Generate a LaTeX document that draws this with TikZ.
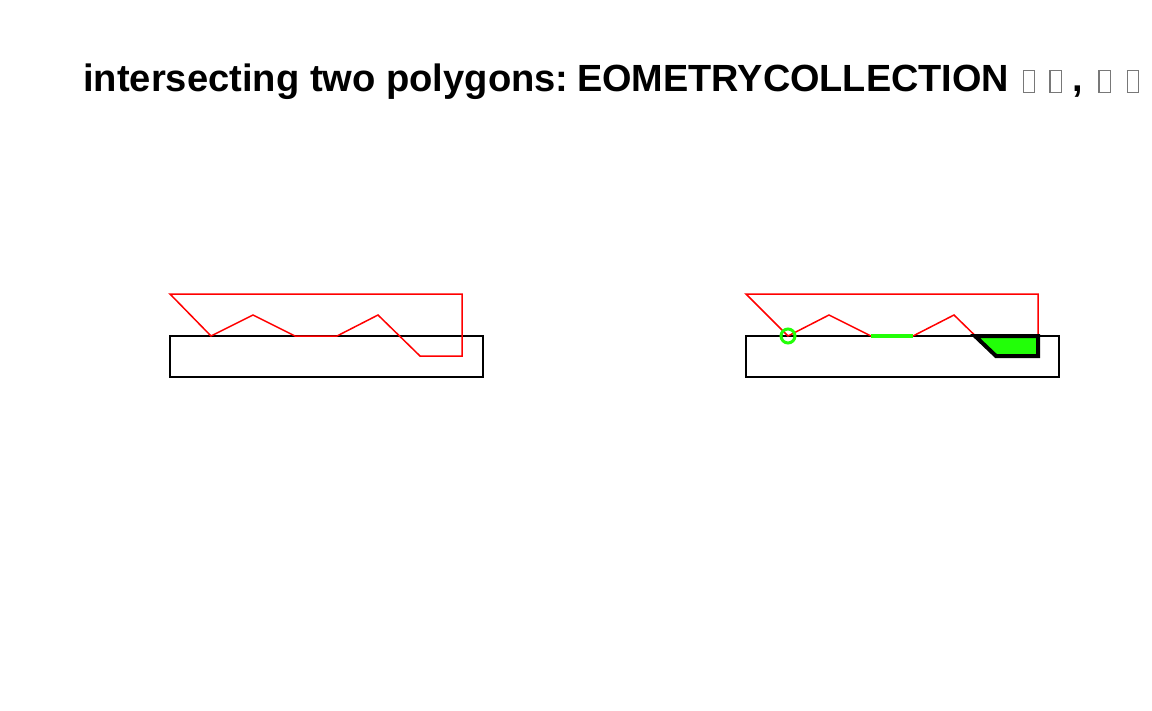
\documentclass[tikz,border=0pt]{standalone}
\usepackage{fontspec}
\setmainfont{Liberation Sans}
\definecolor{mygreen}{RGB}{34,255,8}
\definecolor{tofugray}{RGB}{120,120,120}
\newcommand{\tofu}{{\color{tofugray}\fboxrule=1.2bp\fboxsep=0pt\fbox{\rule{0pt}{21bp}\hspace{10bp}}}}
\tikzset{
  frame/.style={draw=black, line width=1.5bp},
  redpoly/.style={draw=red, line width=1.5bp, line join=miter},
  greenpt/.style={draw=mygreen, line width=3bp},
  greenline/.style={draw=mygreen, line width=3.5bp},
  greenpoly/.style={draw=black, fill=mygreen, line width=4bp, line join=miter},
  title/.style={inner sep=0pt, anchor=base west, font=\fontsize{38.3}{38}\selectfont\bfseries},
  title2/.style={title, font=\fontsize{38}{38}\selectfont\bfseries}
}
\begin{document}
\begin{tikzpicture}[x=1bp, y=-1bp]
\useasboundingbox (0,0) rectangle (1152,711);
\node[title] (t1) at (83,92) {intersecting two polygons:};
\node[title2] (t2) at (577,92) {EOMETRYCOLLECTION\hspace{14bp}\tofu\hspace{14bp}\tofu\hspace{11bp},\hspace{15bp}\tofu\hspace{16bp}\tofu};
% left panel
\draw[frame] (170,336) rectangle (483,377);
\draw[redpoly] (170,294) -- (462,294) -- (462,356) -- (420,356) -- (378,315) -- (337,336) -- (295,336) -- (253,315) -- (211,336) -- cycle;
% right panel
\draw[frame] (746,336) rectangle (1059,377);
\draw[redpoly] (746,294) -- (1038,294) -- (1038,356) -- (996,356) -- (954,315) -- (913,336) -- (871,336) -- (829,315) -- (788,336) -- cycle;
\coordinate (p) at (788,336);
\draw[greenpt] (p) circle (7);
\coordinate (l1) at (871,336);
\coordinate (l2) at (913,336);
\draw[greenline] (l1) -- (l2);
\draw[greenpoly] (975,336) -- (1038,336) -- (1038,356) -- (996,356) -- cycle;
\end{tikzpicture}
\end{document}
